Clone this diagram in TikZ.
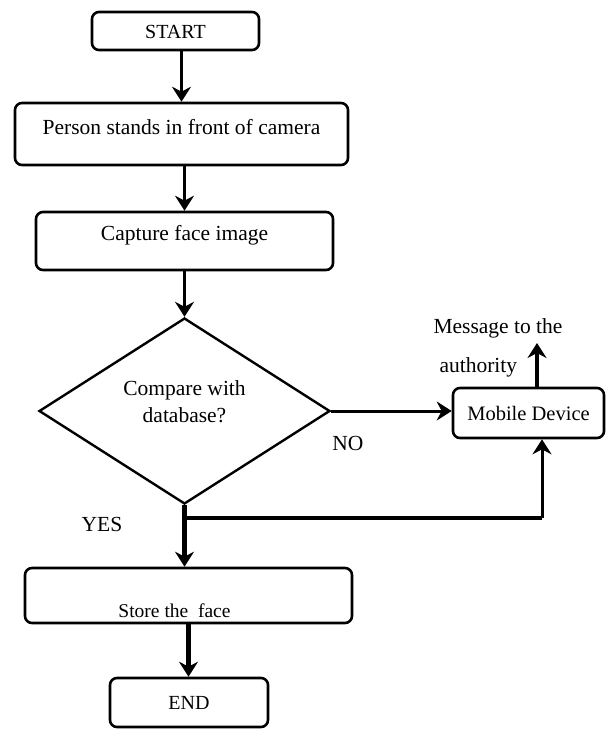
\documentclass[tikz,border=0pt]{standalone}
\usepackage{fontspec}
\setmainfont{Liberation Serif}
\usepackage{tikz}
\usetikzlibrary{shapes.geometric, arrows.meta, positioning, calc}

\tikzset{
	procbox/.style={draw, rounded corners=7pt, line width=2.6pt, inner sep=0pt, text height=15pt, text depth=1pt},
	decision/.style={draw, diamond, line width=2.4pt, inner sep=0pt, align=center},
	flow/.style={->, line width=3pt},
	bigflow/.style={->, line width=4.6pt},
	>={Stealth[length=15pt, width=19pt, inset=5pt]}
}

\begin{document}
\begin{tikzpicture}[x=1pt, y=-1pt, every node/.style={font=\fontsize{21.5}{27}\selectfont}]
			\useasboundingbox (0,0) rectangle (607,729);
			\node[procbox, minimum width=167pt, minimum height=38pt, font=\fontsize{20}{24}\selectfont] (start) at (175.5,31) {START};
			\node[procbox, minimum width=333pt, minimum height=62pt, text depth=15pt] (person) at (181.5,134) {Person stands in front of camera};
			\node[procbox, minimum width=297pt, minimum height=58pt, text depth=16pt] (capture) at (184.5,241) {Capture face image};
			\node[decision, minimum width=291pt, minimum height=186pt] (check) at (184.5,411) {Compare with\\database?\\[-8pt]};
			\node[procbox, minimum width=151pt, minimum height=50pt, font=\fontsize{20.5}{24}\selectfont] (mobile) at (528.5,413) {Mobile Device};
			\node[procbox, minimum width=327pt, minimum height=55pt, text height=44pt, font=\fontsize{19.5}{24}\selectfont] (store) at (188.5,595.5) {Store the~~face\kern28pt};
			\node[procbox, minimum width=158pt, minimum height=49pt, font=\fontsize{20}{24}\selectfont] (stop) at (189,702.5) {END};
			
			\node[align=left, anchor=west] (msg) at (430,348) {Message to the\\[12pt]\hspace{6pt}authority};
			\node (nolbl) at (348,443) {NO};
			\node (yeslbl) at (102,524) {YES};
			
			\coordinate (msgtip) at (537,343);
			\coordinate (fork) at (184.5,518);
			\coordinate (riser) at (542,518);
			
			\draw[flow] (start.south -| person.north) -- (person.north);
			\draw[flow] (person.south -| capture.north) -- (capture.north);
			\draw[flow] (capture.south -| check.north) -- (check.north);
			\draw[flow] (check.east) -- (check.east -| mobile.west);
			\draw[bigflow] (mobile.north -| msgtip) -- (msgtip);
			\draw[bigflow] (check.south) -- (check.south |- store.north);
			\draw[line width=3.6pt] (fork) -- (riser);
			\draw[flow] (riser) -- (riser |- mobile.south);
			\draw[bigflow] (store.south) -- (store.south |- stop.north);
\end{tikzpicture}
\end{document}
